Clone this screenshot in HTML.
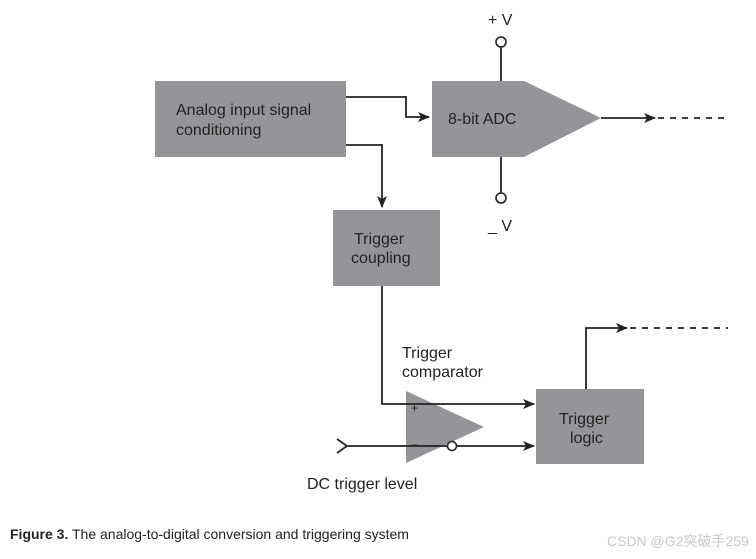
<!DOCTYPE html>
<html><head><style>
body{margin:0;background:#fff;}
svg text{font-family:"Liberation Sans",sans-serif;}
</style></head><body>
<svg width="756" height="554" xmlns="http://www.w3.org/2000/svg">
<defs><marker id="a" markerWidth="12" markerHeight="10" refX="11" refY="5" orient="auto" markerUnits="userSpaceOnUse"><path d="M0,0 L12,5 L0,10 L3,5 Z" fill="#222"/></marker></defs>
<g fill="#939598">
<rect x="155" y="81" width="191" height="76"/>
<path d="M432,81 H524 L601,118 L524,157 H432 Z"/>
<rect x="333" y="210" width="107" height="76"/>
<path d="M406,391 L484,427 L406,463 Z"/>
<rect x="536" y="389" width="108" height="75"/>
</g>
<g stroke="#222" stroke-width="1.8" fill="none">
<path d="M346,97 H406 V117 H429" marker-end="url(#a)"/>
<path d="M346,145 H382 V207" marker-end="url(#a)"/>
<path d="M501,47 V81"/><path d="M501,157 V193"/>
<path d="M601,118 H655" marker-end="url(#a)"/>
<path d="M658,118 H724" stroke-dasharray="6,6"/>
<path d="M382,286 V404 H534" marker-end="url(#a)"/>
<path d="M337,439 L347,446 L337,453"/>
<path d="M347,446 H447"/><path d="M457,446 H534" marker-end="url(#a)"/>
<path d="M586,389 V328 H627" marker-end="url(#a)"/>
<path d="M630,328 H728" stroke-dasharray="6,6"/>
</g>
<g stroke="#222" stroke-width="1.6" fill="#fff">
<circle cx="501" cy="42" r="5"/><circle cx="501" cy="198" r="5"/><circle cx="452" cy="446" r="4.5"/>
</g>
<g fill="#222" font-size="16">
<text x="176" y="115">Analog input signal</text>
<text x="176" y="135">conditioning</text>
<text x="448" y="124">8-bit ADC</text>
<text x="354" y="244">Trigger</text>
<text x="351" y="263">coupling</text>
<text x="402" y="358">Trigger</text>
<text x="402" y="377">comparator</text>
<text x="559" y="424">Trigger</text>
<text x="570" y="443">logic</text>
<text x="307" y="489">DC trigger level</text>
<text x="488" y="25">+ V</text>
<text x="488" y="231">_ V</text>
<text x="411" y="412" font-size="12">+</text>
<text x="411" y="449" font-size="12">−</text>
<text x="10" y="539" font-size="14"><tspan font-weight="bold">Figure 3.</tspan> The analog-to-digital conversion and triggering system</text>
</g>
<text x="607" y="546" font-size="14" fill="#c8c8c8" style="font-family:'Liberation Sans','Noto Sans CJK SC',sans-serif">CSDN @G2突破手259</text>
</svg>
</body></html>
